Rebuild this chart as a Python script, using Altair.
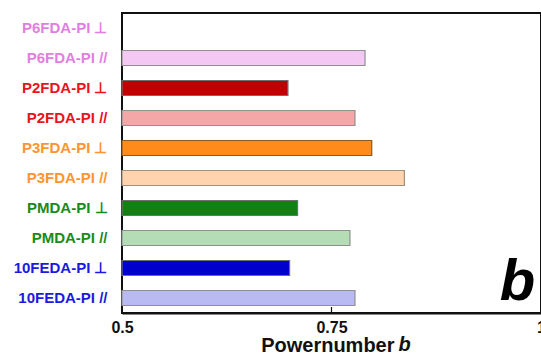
import altair as alt
import pandas as pd

categories = ["P6FDA-PI ⊥", "P6FDA-PI //", "P2FDA-PI ⊥", "P2FDA-PI //",
              "P3FDA-PI ⊥", "P3FDA-PI //", "PMDA-PI ⊥", "PMDA-PI //",
              "10FEDA-PI ⊥", "10FEDA-PI //"]
values = [None, 0.790, 0.698, 0.778, 0.798, 0.837, 0.7095, 0.772, 0.700, 0.778]
fills = ["#ffffff", "#f3c9f3", "#c00000", "#f3a7a7", "#ff8c1a", "#ffd3ad",
         "#138013", "#b5ddb5", "#0000cc", "#babaf2"]
strokes = ["#888888", "#909090", "#707070", "#909090", "#8a5a20", "#a09080",
           "#707070", "#909090", "#707070", "#909090"]
x_ticks = [0.5, 0.75, 1.0]

df = pd.DataFrame({"cat": categories, "val": values, "base": 0.5,
                   "fill": fills, "stroke": strokes}).dropna()

W, H = 419, 300
FONT = "Liberation Sans"

label_color = {
    "condition": [
        {"test": "indexof(datum.value,'P6FDA')>=0", "value": "#e07fe0"},
        {"test": "indexof(datum.value,'P2FDA')>=0", "value": "#e8141c"},
        {"test": "indexof(datum.value,'P3FDA')>=0", "value": "#ff9430"},
        {"test": "indexof(datum.value,'PMDA')>=0", "value": "#1a8a1a"},
    ],
    "value": "#1a1ae0",
}

xscale = alt.Scale(domain=[0.5, 1.0], zero=False, nice=False)
yscale = alt.Scale(domain=categories, paddingInner=0.5, paddingOuter=0.25)

bars = alt.Chart(df).mark_bar(strokeWidth=1.2).encode(
    x=alt.X("val:Q", scale=xscale,
            axis=alt.Axis(values=x_ticks, labelExpr="datum.value == 1 ? '1' : format(datum.value, '')",
                          ticks=False, grid=False, domainColor="#111111", domainWidth=2,
                          labelFont=FONT, labelFontSize=16, labelFontWeight="bold",
                          labelColor="#111111", labelPadding=6, labelFlush=False,
                          title="Powernumber", titleFont=FONT, titleFontSize=20,
                          titleFontWeight="bold", titleColor="#111111",
                          titleAlign="right", titleAnchor="start", titleX=272, titleY=38,
                          titleBaseline="alphabetic")),
    x2="base:Q",
    y=alt.Y("cat:N", scale=yscale, sort=categories,
            axis=alt.Axis(title=None, ticks=False, domain=False,
                          labelFont=FONT, labelFontSize=15, labelFontWeight="bold",
                          labelColor=label_color, labelPadding=15)),
    fill=alt.Fill("fill:N", scale=None),
    stroke=alt.Stroke("stroke:N", scale=None),
)

tick_df = pd.DataFrame({"x": [0.75]})
tick = alt.Chart(tick_df).mark_rule(color="#111111", strokeWidth=1.2).encode(
    x=alt.X("x:Q", scale=xscale), y=alt.value(H - 6), y2=alt.value(H))

bdf = pd.DataFrame({"x": [0.972], "cat": ["10FEDA-PI //"], "t": ["b"]})
bigb = alt.Chart(bdf).mark_text(font=FONT, fontSize=58, fontWeight="bold",
                                fontStyle="italic", baseline="alphabetic", align="center",
                                dy=2, color="#000000").encode(
    x=alt.X("x:Q", scale=xscale), y=alt.Y("cat:N", scale=yscale, sort=categories), text="t:N")

tdf = pd.DataFrame({"x": [0.830], "t": ["b"]})
titleb = alt.Chart(tdf).mark_text(font=FONT, fontSize=20, fontWeight="bold",
                                  fontStyle="italic", baseline="alphabetic", align="left",
                                  color="#111111").encode(
    x=alt.X("x:Q", scale=xscale), y=alt.value(H + 38), text="t:N")

chart = alt.layer(bars, tick, bigb, titleb).properties(
    width=W, height=H,
    autosize=alt.AutoSizeParams(type="none"),
    padding={"left": 122, "top": 13, "right": 0, "bottom": 41},
    background="#ffffff",
).configure_view(stroke="#111111", strokeWidth=2)

chart.save("out.html", embed_options={"renderer": "svg", "actions": False})
